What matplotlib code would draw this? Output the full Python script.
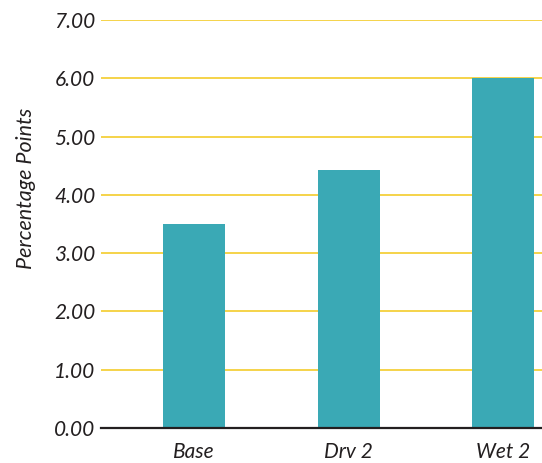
import matplotlib.pyplot as plt

categories = ['Base', 'Drv 2', 'Wet 2']
values = [3.50, 4.42, 6.00]
yticks = [0, 1, 2, 3, 4, 5, 6, 7]

plt.rcParams['font.family'] = ['Lato', 'DejaVu Sans']

fig = plt.figure(figsize=(5.42, 4.63), dpi=100)
ax = fig.add_axes([0.1863, 0.0756, 0.8137, 0.8812])

ax.set_axisbelow(True)
ax.grid(axis='y', color='#F2C719', linewidth=1.1)
ax.bar(range(len(categories)), values, width=0.4, color='#3AA9B5', zorder=2)

ax.set_ylim(0, 7)
ax.set_xlim(-0.6, 2.25)
ax.set_yticks(yticks)
ax.set_yticklabels([f'{v:.2f}' for v in yticks], fontsize=15, style='italic', color='#231f20')
ax.set_xticks(range(len(categories)))
ax.set_xticklabels(categories, fontsize=15, style='italic', color='#231f20')
ax.tick_params(axis='both', length=0)
ax.tick_params(axis='x', pad=10)
ax.tick_params(axis='y', pad=4)

for s in ['top', 'right', 'left']:
    ax.spines[s].set_visible(False)
ax.spines['bottom'].set_color('#231f20')
ax.spines['bottom'].set_linewidth(1.6)
ax.spines['bottom'].set_zorder(3)

ax.set_ylabel('Percentage Points', fontsize=15.5, style='italic', color='#231f20')
ax.yaxis.set_label_coords(-0.148, 0.588)

fig.savefig('out.png', dpi=100)
